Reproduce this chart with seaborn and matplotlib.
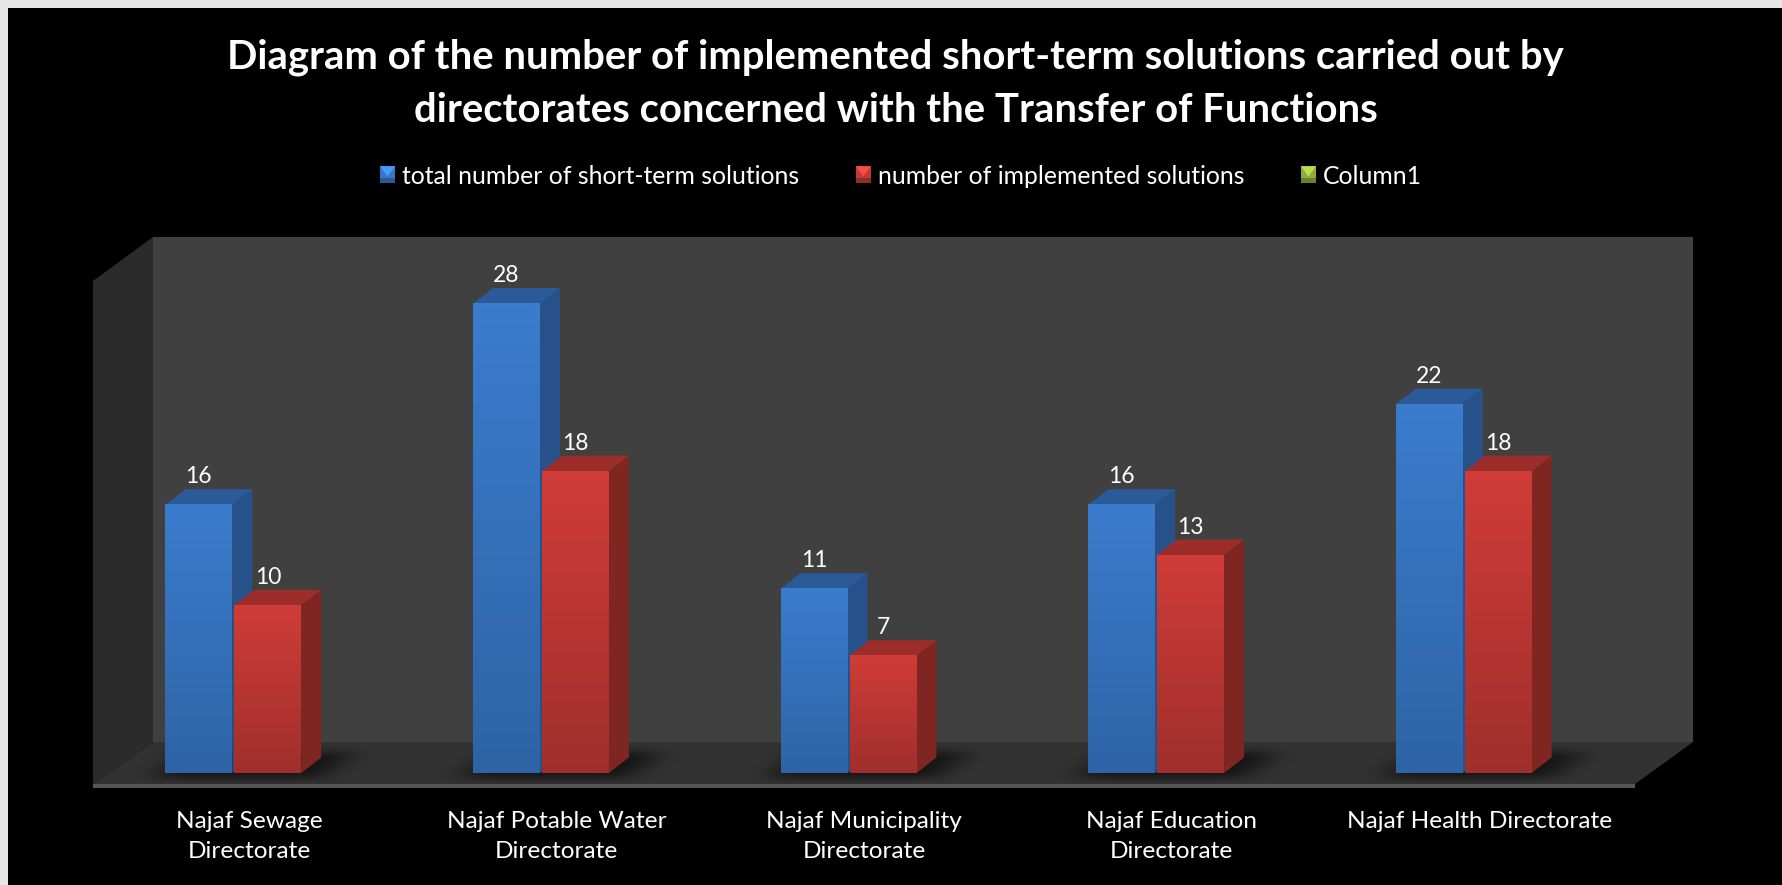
import numpy as np
import pandas as pd
import matplotlib
matplotlib.use('Agg')
import matplotlib.pyplot as plt
from matplotlib.colors import to_rgb
from matplotlib.patches import Polygon, Rectangle
from matplotlib.transforms import IdentityTransform, ScaledTranslation
import seaborn as sns

# the data
directorates = ['Najaf Sewage\nDirectorate', 'Najaf Potable Water\nDirectorate',
                'Najaf Municipality\nDirectorate', 'Najaf Education\nDirectorate',
                'Najaf Health Directorate']
total_solutions = [16, 28, 11, 16, 22]
implemented_solutions = [10, 18, 7, 13, 18]
column1 = [np.nan, np.nan, np.nan, np.nan, np.nan]
series_names = ['total number of short-term solutions', 'number of implemented solutions', 'Column1']

title = ('Diagram of the number of implemented short-term solutions carried out by\n'
         'directorates concerned with the Transfer of Functions')

df = pd.DataFrame({
    'directorate': directorates * 3,
    'series': np.repeat(series_names, 5),
    'value': total_solutions + implemented_solutions + column1,
})

W, H = 1782, 885
sns.set_theme(style='dark')
plt.rcParams['font.family'] = ['Lato', 'DejaVu Sans']

fig = plt.figure(figsize=(W / 100, H / 100), dpi=100, facecolor='black')

### The box behind the bars (pixel coordinates, this is decoration)
frame = fig.add_axes([0, 0, 1, 1], zorder=0)
frame.set_xlim(0, W)
frame.set_ylim(H, 0)
frame.axis('off')
frame.add_patch(Rectangle((0, 0), W, 8, color='#e6e6e4', lw=0))
frame.add_patch(Rectangle((0, 0), 8, H, color='#e6e6e4', lw=0))
frame.add_patch(Polygon([(153, 237), (1693, 237), (1693, 742), (153, 742)], color='#404040', lw=0))
frame.add_patch(Polygon([(93, 281), (153, 237), (153, 742), (93, 784)], color='#2b2b2b', lw=0))
floor = Polygon([(93, 784), (153, 742), (1693, 742), (1635, 784)], color='#323232', lw=0)
frame.add_patch(floor)
frame.add_patch(Rectangle((93, 784), 1542, 4, color='#565656', lw=0))

### The bars
ax = fig.add_axes([114 / W, (H - 773) / H, 1538 / W, 503 / H], zorder=1)
ax.patch.set_alpha(0)
palette = {series_names[0]: '#3877c4', series_names[1]: '#c23a35', series_names[2]: '#8fab3d'}
sns.barplot(data=df, x='directorate', y='value', hue='series', hue_order=series_names,
            order=directorates, palette=palette, width=0.672, gap=0.03, saturation=1,
            errorbar=None, linewidth=0, edgecolor='none', ax=ax)
ax.set_xlim(-0.5, 4.5)
ax.set_ylim(0, 30)
ax.set(xlabel=None, ylabel=None)
ax.set_yticks([])
ax.grid(False)
sns.despine(ax=ax, left=True, bottom=True)

# 3d look of the bars, sizes in pixels turned into data units
dx = 20 * 5 / 1538
dy = 15.5 * 30 / 503
faces = {
    series_names[0]: ('#3b7ccd', '#2e64a6', '#27518a', '#2a5a97'),
    series_names[1]: ('#d03c37', '#a02f2c', '#7f2623', '#9c2d2a'),
}
for container, name in zip(ax.containers, series_names):
    if name not in faces:
        continue
    top_c, bottom_c, side_c, lid_c = faces[name]
    for bar in container:
        x0, w, h = bar.get_x(), bar.get_width(), bar.get_height()
        ramp = np.linspace(to_rgb(top_c), to_rgb(bottom_c), 64)[:, None, :]
        ax.imshow(ramp, extent=[x0, x0 + w, 0, h], aspect='auto', zorder=bar.get_zorder() + 0.1,
                  interpolation='bilinear')
        ax.add_patch(Polygon([(x0 + w, 0), (x0 + w + dx, dy), (x0 + w + dx, h + dy), (x0 + w, h)],
                             color=side_c, lw=0, zorder=bar.get_zorder() - 0.1))
        ax.add_patch(Polygon([(x0, h), (x0 + dx, h + dy), (x0 + w + dx, h + dy), (x0 + w, h)],
                             color=lid_c, lw=0, zorder=bar.get_zorder() - 0.1))
    ax.bar_label(container, padding=12.5, color='white', fontsize=16.5, zorder=10)
ax.set_xlim(-0.5, 4.5)
ax.set_ylim(0, 30)

# soft shadow of each pair of bars on the floor, blurred mask clipped to the floor
mask = np.zeros((H, W))
for i in range(len(directorates)):
    left = ax.containers[0][i]
    right = ax.containers[1][i]
    x0 = int(ax.transData.transform((left.get_x(), 0))[0])
    x1 = int(ax.transData.transform((right.get_x() + right.get_width(), 0))[0])
    for row in range(752, 778):
        lean = int((775 - row) * 1.3)
        mask[row, x0 - 8 + lean:x1 + 22 + lean] = 1
kernel = np.exp(-np.linspace(-2.5, 2.5, 81) ** 2 / 2)
kernel /= kernel.sum()
small = np.exp(-np.linspace(-2.5, 2.5, 21) ** 2 / 2)
small /= small.sum()
mask = np.apply_along_axis(np.convolve, 1, mask, kernel, mode='same')
mask = np.apply_along_axis(np.convolve, 0, mask, small, mode='same')
shadow = np.zeros((H, W, 4))
shadow[..., 3] = mask * 0.6
shadow_img = frame.imshow(shadow, extent=[0, W, H, 0], aspect='auto', interpolation='bilinear', zorder=1.5)
shadow_img.set_clip_path(floor)
frame.set_xlim(0, W)
frame.set_ylim(H, 0)

# category labels sit a bit to the left of the bars
ax.tick_params(axis='x', length=0, pad=27, labelsize=17.6, colors='white')
shift = ScaledTranslation(-18.8 / 100, 0, fig.dpi_scale_trans)
for label in ax.get_xticklabels():
    label.set_transform(label.get_transform() + shift)
    label.set_linespacing(1.55)
    label.set_verticalalignment('top')

### Title and legend
fig.text(895.6 / W, 1 - 84 / H, title, color='white', fontsize=28.8, fontweight='bold',
         ha='center', va='center', linespacing=1.54)

sns.move_legend(ax, 'center', bbox_to_anchor=(901 / W, 1 - 176 / H), bbox_transform=fig.transFigure,
                ncol=3, frameon=False, title=None, fontsize=17.8, labelcolor='white',
                handlelength=0.6, handleheight=0.69, handletextpad=0.28, columnspacing=2.3)

# lighter bevel on the legend keys
fig.canvas.draw()
for patch in ax.get_legend().get_patches():
    box = patch.get_window_extent()
    r, g, b = patch.get_facecolor()[:3]
    fig.add_artist(Polygon([(box.x0, box.y1), (box.x1, box.y1), ((box.x0 + box.x1) / 2, box.y0 + box.height * 0.4)],
                           color=(min(r * 1.3, 1), min(g * 1.3, 1), min(b * 1.3, 1)), lw=0,
                           transform=IdentityTransform(), zorder=5))
    fig.add_artist(Rectangle((box.x0, box.y0), box.width, box.height * 0.3,
                             color=(r * 0.75, g * 0.75, b * 0.75), lw=0,
                             transform=IdentityTransform(), zorder=5))

fig.savefig('out.png', dpi=100, facecolor='black')
